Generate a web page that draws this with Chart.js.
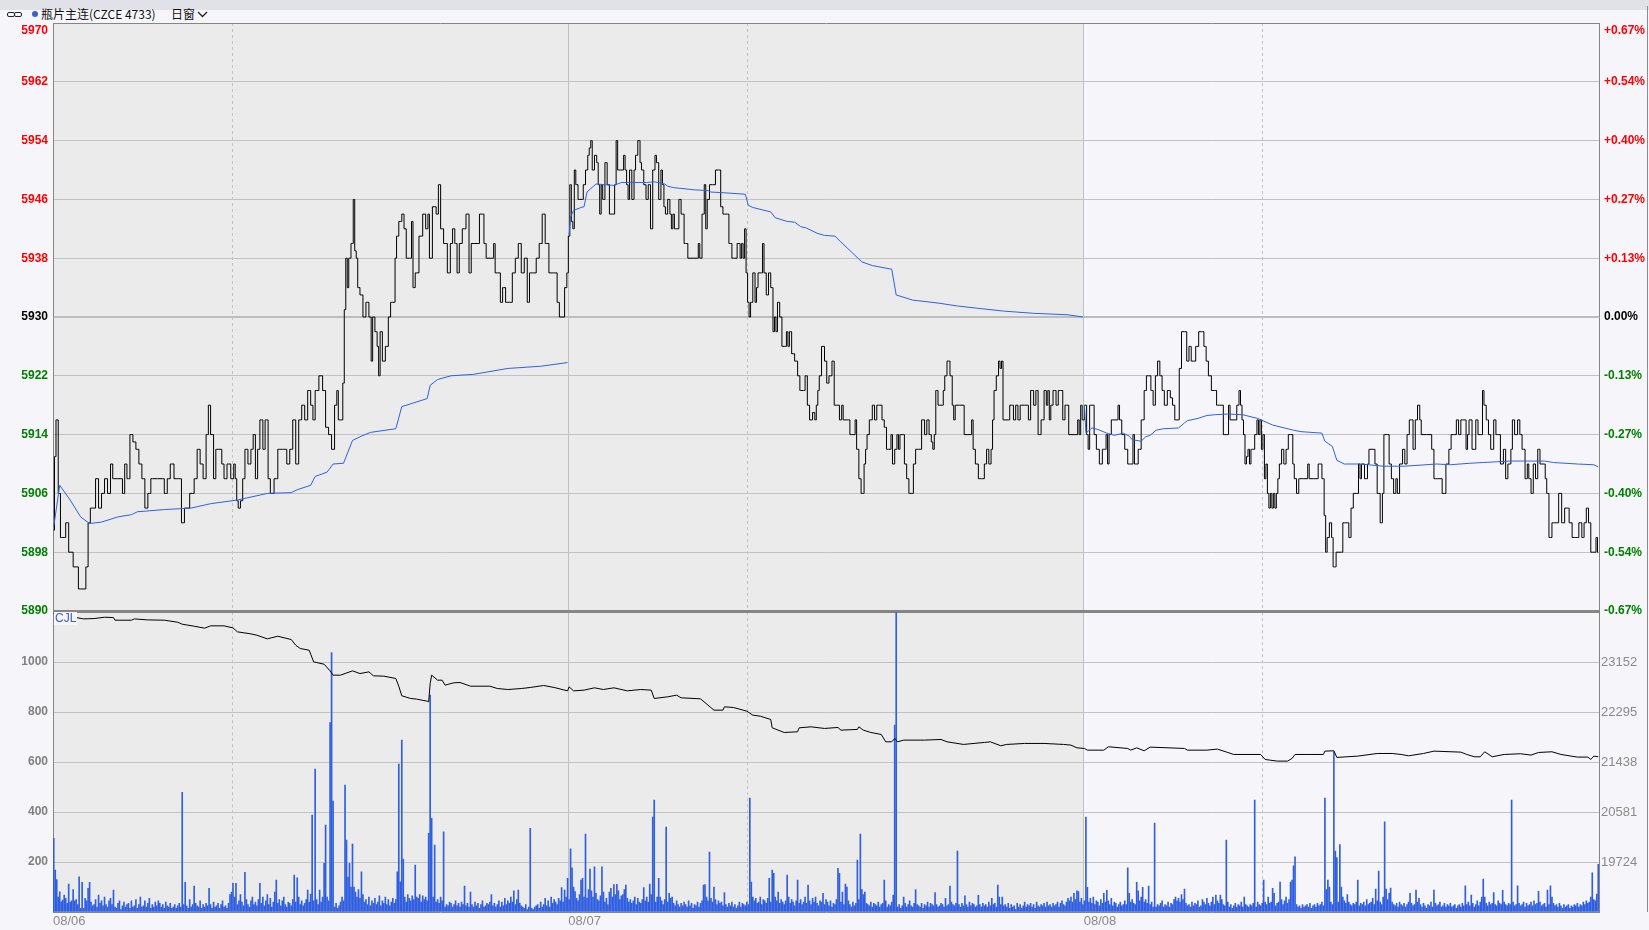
<!DOCTYPE html>
<html lang="zh-CN">
<head>
<meta charset="utf-8">
<title>瓶片主连(CZCE 4733) 日窗</title>
<script src="https://cdn.jsdelivr.net/npm/chart.js@4.4.1/dist/chart.umd.min.js"></script>
<style>
  html, body { margin: 0; padding: 0; }
  body { width: 1649px; height: 930px; overflow: hidden; background: #f6f6fa; position: relative;
         font-family: 'Liberation Sans', Arial, sans-serif; }
  #strip { position: absolute; left: 0; top: 0; width: 1649px; height: 10px; background: #e1e2e7; }
  .link { position: absolute; top: 12px; width: 6px; height: 3px; border: 1.5px solid #222; border-radius: 2px; }
  .dot { position: absolute; left: 32px; top: 11px; width: 6px; height: 6px; border-radius: 50%; background: #3b64c4; }
  .htxt { position: absolute; top: 6px; line-height: 16px; font-size: 12px; color: #111;
          font-family: 'Noto Sans CJK SC', 'Liberation Sans', sans-serif; white-space: nowrap; }
  .chev { position: absolute; left: 197px; top: 11px; }
  canvas { position: absolute; left: 0; }
  #priceCanvas { top: 0; z-index: 2; }
  #volCanvas { top: 600px; z-index: 1; }
  #cjl { position: absolute; left: 54px; top: 612px; z-index: 3; font-size: 12px; line-height: 13px;
         color: #3a5bd9; background: #f7f7fb; padding: 0 1px; }
  #edge { position: absolute; left: 1647px; top: 6px; width: 1px; height: 906px; background: #8c8c8c; }
</style>
</head>
<body>
<div id="strip"></div>
<span class="link" style="left:7px"></span>
<span class="link" style="left:14px"></span>
<span class="dot"></span>
<span class="htxt" style="left:41px">瓶片主连(CZCE 4733)</span>
<span class="htxt" style="left:171px">日窗</span>
<svg class="chev" width="11" height="7"><polyline points="1,1 5.5,5.5 10,1" fill="none" stroke="#222" stroke-width="1.3"/></svg>
<canvas id="priceCanvas" width="1649" height="630"></canvas>
<canvas id="volCanvas" width="1649" height="330"></canvas>
<span id="cjl">CJL</span>
<div id="edge"></div>
<script>
// sessions: 345 one-minute bars per trading day, night session = first 120
const barCount = 1035;
const dayStarts = [0, 345, 690];
const dayNames = ['08/06', '08/07', '08/08'];
const sessionBreaks = [120, 465, 810];
const prevSettle = 5930;

const priceTicks = [5890, 5898, 5906, 5914, 5922, 5930, 5938, 5946, 5954, 5962, 5970];
const volTicks = [0, 200, 400, 600, 800, 1000, 1200];
const oiTicks = [19724, 20581, 21438, 22295, 23152];

// volume per minute bar
const volumes = [
  295,168,130,60,81,41,48,68,55,35,112,40,45,90,45,50,30,141,15,119,
  15,55,45,95,119,40,25,30,50,20,68,35,45,25,60,30,20,45,55,30,
  88,20,15,35,45,10,25,40,20,30,35,15,45,20,25,50,15,30,60,20,
  25,45,20,35,55,15,30,20,40,25,45,35,20,30,15,40,25,20,35,15,
  20,30,15,25,35,20,479,30,119,25,15,50,20,30,104,35,25,20,45,15,
  30,20,35,25,95,30,15,40,20,25,35,15,30,45,20,25,15,35,70,80,
  115,60,115,30,45,70,40,25,159,50,30,20,45,60,30,40,25,50,115,35,
  60,25,45,70,30,55,20,40,80,128,35,50,25,45,60,30,20,40,35,25,
  50,148,40,137,60,30,45,25,35,50,88,40,72,388,45,572,50,30,88,40,
  60,195,348,60,45,758,1038,444,20,35,15,25,40,60,45,508,288,140,195,100,
  272,100,80,60,90,55,161,70,40,50,30,60,25,45,35,55,30,40,65,25,
  45,35,60,30,50,25,40,55,35,50,161,592,121,688,212,60,40,70,55,45,
  65,50,188,60,55,70,40,65,50,60,45,315,868,375,60,268,40,50,35,60,
  45,321,20,30,25,40,35,20,30,45,25,35,20,40,30,104,25,35,20,80,
  30,20,40,25,35,15,30,45,20,25,35,30,40,70,25,35,20,30,45,20,
  40,25,55,30,45,35,60,40,85,30,50,88,35,25,20,15,30,10,20,335,
  15,10,20,25,30,15,40,20,30,55,25,45,20,60,35,50,40,30,55,45,
  98,40,88,60,135,50,253,177,100,82,55,45,70,128,135,60,312,56,90,172,
  85,60,181,75,50,45,65,181,80,40,55,30,80,95,60,110,70,111,85,50,
  65,70,90,108,55,40,50,35,45,60,30,55,40,35,50,98,45,60,40,112,
  70,380,448,40,60,135,60,45,30,50,340,40,75,55,60,35,25,45,30,20,
  35,25,40,30,20,45,25,35,15,30,25,40,20,35,45,108,110,60,45,240,
  55,40,100,50,30,45,35,40,25,78,30,20,35,25,40,20,30,15,25,40,
  20,35,30,25,40,30,456,120,60,45,55,35,40,60,30,50,45,35,55,135,
  40,168,155,60,45,80,35,50,40,30,45,148,60,35,50,40,25,45,128,35,
  50,30,40,60,35,108,45,30,55,40,60,35,25,45,40,75,30,50,40,25,
  45,20,35,30,50,175,155,40,80,30,112,100,45,30,20,40,25,35,208,50,
  312,90,70,80,35,30,25,40,20,35,30,25,40,20,30,35,128,45,20,30,
  25,40,68,748,1200,20,30,15,25,60,35,20,30,45,25,20,35,90,30,25,
  20,35,15,30,25,40,20,35,30,25,78,30,20,25,35,30,20,55,25,30,
  104,40,30,25,35,244,30,20,35,25,65,30,20,40,25,35,30,20,25,67,
  30,20,35,25,30,20,40,25,55,30,35,20,108,60,30,60,25,30,20,35,
  15,30,20,25,10,35,20,30,15,25,40,20,30,25,35,20,30,15,40,25,
  20,30,25,35,20,40,25,30,20,35,25,30,40,20,35,45,30,25,40,55,
  45,60,40,75,50,85,82,40,55,30,45,380,99,40,55,35,60,30,45,40,
  25,50,35,75,40,87,45,30,55,25,40,35,20,30,40,25,30,45,30,177,
  75,40,50,35,30,119,85,45,60,99,40,50,35,104,30,40,20,356,20,30,
  25,35,45,20,30,25,40,20,35,30,50,60,45,55,40,70,50,92,35,25,
  30,20,40,25,35,30,45,20,25,50,40,30,55,35,25,40,60,30,68,45,
  35,68,50,30,25,288,40,20,30,15,25,35,20,30,25,40,20,60,30,25,
  20,30,25,35,448,20,40,30,25,35,128,40,30,60,35,40,95,75,25,35,
  40,120,50,30,45,60,35,50,120,128,185,221,30,20,25,15,30,20,25,30,
  20,35,15,25,30,20,35,25,30,40,25,456,90,128,100,40,30,641,244,218,
  40,270,100,60,45,35,70,40,30,25,35,30,40,128,25,35,30,40,25,50,
  30,35,40,55,30,92,45,164,40,30,60,361,92,50,75,96,40,30,25,35,
  20,40,30,25,35,20,30,40,75,35,25,30,88,40,55,30,20,35,25,15,
  30,25,40,20,88,35,25,30,40,20,25,35,20,30,25,35,20,25,30,15,
  25,30,20,35,25,105,30,40,25,68,35,20,30,45,25,40,60,132,60,35,
  25,40,30,35,78,30,25,45,35,30,87,40,30,25,35,30,448,40,25,30,
  105,35,25,30,40,20,35,25,30,40,25,45,30,35,83,40,25,30,35,20,
  88,30,105,60,35,25,30,20,35,25,15,30,20,25,30,15,25,20,30,25,
  35,20,30,25,40,30,45,35,40,60,157,50,45,72,191
];

// last price, [bar index, price]
const pricePts = [
  [0,5901],[1,5911],[2,5916],[4,5906],[5,5900],[7,5900],[9,5902],[11,5898],[15,5896],[18,5893],
  [21,5893],[22,5896],[24,5902],[25,5904],[27,5904],[29,5908],[31,5904],[33,5906],[35,5908],[37,5906],
  [39,5910],[40,5908],[45,5908],[47,5906],[48,5910],[50,5908],[52,5914],[54,5913],[56,5912],[58,5910],
  [60,5908],[62,5904],[64,5906],[66,5908],[73,5908],[75,5906],[77,5908],[79,5910],[82,5908],[85,5908],
  [86,5902],[89,5904],[93,5906],[95,5908],[97,5912],[99,5910],[101,5908],[103,5914],[104,5918],[106,5914],
  [108,5908],[109,5912],[112,5912],[113,5910],[115,5908],[117,5910],[120,5908],[121,5910],[122,5908],[123,5905],
  [124,5904],[126,5905],[127,5908],[129,5912],[131,5910],[133,5912],[134,5914],[136,5908],[137,5912],[139,5916],
  [141,5912],[142,5916],[143,5916],[144,5908],[146,5906],[149,5908],[151,5912],[153,5912],[155,5912],[157,5910],
  [159,5912],[161,5916],[163,5910],[165,5916],[167,5918],[169,5916],[171,5920],[173,5918],[174,5916],[176,5920],
  [179,5922],[181,5920],[183,5915],[185,5914],[187,5912],[189,5918],[190,5920],[191,5916],[193,5916],[194,5921],
  [195,5931],[196,5938],[197,5934],[198,5938],[200,5940],[201,5946],[202,5939],[203,5938],[204,5934],[206,5933],
  [208,5930],[210,5932],[212,5930],[213,5924],[214,5930],[216,5928],[217,5926],[218,5922],[219,5928],[221,5924],
  [223,5926],[225,5930],[226,5932],[228,5932],[229,5938],[230,5941],[232,5943],[234,5944],[235,5942],[237,5938],
  [239,5938],[240,5943],[241,5934],[243,5936],[246,5941],[248,5944],[250,5942],[251,5944],[252,5938],[255,5945],
  [257,5944],[258,5948],[260,5942],[262,5940],[265,5936],[266,5940],[268,5942],[269,5940],[271,5936],[272,5940],
  [275,5942],[277,5944],[279,5936],[280,5940],[284,5940],[286,5944],[287,5944],[289,5940],[290,5938],[294,5938],
  [295,5940],[296,5936],[298,5936],[300,5932],[301,5934],[304,5932],[306,5932],[308,5936],[310,5938],[312,5940],
  [314,5936],[316,5938],[318,5932],[319,5936],[322,5936],[324,5938],[326,5940],[328,5944],[330,5940],[333,5936],
  [336,5936],[338,5932],[339,5930],[341,5930],[343,5934],[344,5936],
  [345,5941],[346,5948],[347,5943],[348,5942],[349,5950],[350,5948],[352,5946],[354,5946],[355,5948],[357,5950],
  [358,5952],[359,5953],[360,5954],[361,5950],[363,5952],[364,5951],[365,5948],[366,5944],[367,5948],[368,5946],
  [370,5951],[371,5948],[373,5944],[375,5944],[376,5948],[377,5954],[378,5950],[381,5950],[382,5952],[383,5950],
  [384,5948],[385,5946],[386,5950],[388,5946],[389,5950],[390,5952],[392,5954],[393,5951],[394,5950],[396,5948],
  [397,5946],[399,5948],[400,5942],[402,5950],[403,5952],[404,5951],[406,5946],[407,5950],[408,5948],[409,5945],
  [410,5944],[412,5946],[413,5944],[414,5942],[415,5944],[416,5942],[418,5942],[419,5946],[421,5944],[423,5940],
  [426,5938],[431,5938],[432,5940],[433,5938],[435,5944],[436,5948],[437,5942],[438,5946],[440,5948],[442,5948],
  [444,5950],[446,5950],[447,5945],[449,5944],[451,5944],[453,5940],[455,5938],[456,5938],[459,5940],[460,5938],
  [461,5940],[462,5938],[463,5942],[464,5936],[465,5932],[466,5930],[467,5932],[469,5936],[470,5932],[471,5934],
  [472,5936],[474,5936],[475,5940],[476,5936],[478,5933],[479,5936],[481,5934],[482,5928],[483,5930],[484,5928],
  [485,5932],[487,5930],[488,5926],[490,5926],[491,5928],[492,5926],[493,5928],[495,5925],[497,5924],[499,5922],
  [500,5920],[502,5920],[504,5922],[505,5918],[507,5916],[509,5917],[510,5916],[511,5918],[512,5920],[513,5922],
  [515,5926],[517,5924],[518,5921],[520,5922],[522,5924],[523,5918],[525,5918],[527,5916],[528,5918],[529,5916],
  [532,5916],[534,5914],[536,5914],[537,5916],[538,5912],[540,5908],[541,5906],[542,5906],[543,5910],[544,5912],
  [545,5914],[547,5916],[549,5918],[550,5916],[552,5918],[554,5918],[555,5916],[557,5915],[558,5912],[560,5912],
  [561,5914],[562,5910],[564,5912],[565,5914],[566,5912],[567,5914],[569,5914],[570,5910],[572,5908],[573,5906],
  [575,5906],[576,5910],[578,5912],[580,5912],[582,5916],[584,5914],[585,5916],[587,5914],[588,5913],[589,5912],
  [590,5914],[591,5920],[593,5918],[595,5918],[596,5920],[597,5922],[599,5924],[601,5922],[602,5918],[603,5916],
  [604,5918],[609,5918],[610,5914],[614,5914],[615,5916],[616,5912],[618,5910],[620,5908],[622,5908],[624,5910],
  [625,5912],[627,5910],[628,5912],[629,5916],[630,5920],[632,5922],[633,5924],[634,5923],[635,5924],[636,5916],
  [639,5916],[641,5918],[642,5918],[643,5916],[645,5918],[646,5916],[648,5918],[652,5918],[653,5916],[655,5920],
  [657,5918],[658,5920],[660,5914],[662,5916],[664,5920],[665,5918],[666,5920],[667,5916],[668,5918],[670,5920],
  [672,5918],[673,5920],[675,5920],[676,5916],[678,5918],[681,5914],[685,5914],[686,5916],[687,5914],[688,5918],
  [689,5916],
  [691,5918],[692,5914],[693,5912],[694,5918],[696,5918],[697,5914],[699,5912],[701,5910],[703,5912],[704,5912],
  [705,5914],[706,5910],[707,5914],[709,5916],[712,5916],[713,5918],[714,5916],[716,5914],[718,5912],[720,5910],
  [722,5910],[723,5914],[724,5910],[725,5910],[727,5912],[729,5916],[731,5920],[732,5922],[734,5922],[735,5920],
  [737,5918],[738,5922],[740,5924],[741,5922],[743,5920],[744,5918],[747,5920],[748,5919],[750,5918],[751,5916],
  [753,5916],[754,5923],[756,5928],[758,5928],[759,5924],[761,5926],[762,5924],[764,5924],[765,5926],[768,5928],
  [769,5928],[771,5926],[772,5924],[774,5922],[776,5920],[778,5920],[779,5918],[782,5918],[784,5914],[786,5914],
  [787,5918],[788,5916],[791,5916],[793,5918],[794,5920],[795,5918],[796,5916],[797,5914],[798,5910],[799,5911],
  [800,5912],[801,5910],[802,5912],[803,5912],[805,5914],[806,5916],[807,5914],[808,5916],[809,5912],[810,5914],
  [811,5908],[812,5910],[813,5906],[814,5904],[815,5906],[816,5904],[817,5906],[818,5904],[819,5906],[820,5908],
  [821,5910],[823,5912],[824,5910],[826,5912],[827,5914],[829,5914],[830,5910],[831,5908],[833,5906],[834,5908],
  [839,5908],[840,5910],[841,5908],[846,5908],[847,5910],[848,5910],[850,5908],[851,5903],[852,5898],[853,5900],
  [855,5902],[856,5900],[857,5896],[858,5896],[859,5898],[862,5898],[864,5902],[866,5902],[868,5900],[869,5904],
  [871,5906],[873,5906],[874,5910],[875,5908],[876,5910],[879,5908],[880,5910],[881,5912],[884,5912],[885,5910],
  [887,5906],[889,5902],[890,5906],[891,5914],[893,5914],[895,5910],[896,5908],[898,5906],[899,5908],[900,5906],
  [902,5910],[904,5912],[905,5910],[907,5914],[908,5916],[909,5916],[911,5912],[912,5916],[914,5918],[915,5916],
  [916,5914],[922,5914],[923,5912],[925,5908],[928,5908],[931,5906],[933,5910],[935,5912],[936,5914],[938,5914],
  [940,5916],[941,5914],[943,5916],[945,5916],[946,5912],[947,5914],[948,5916],[951,5912],[953,5916],[954,5914],
  [956,5914],[957,5920],[958,5918],[960,5916],[961,5914],[963,5912],[965,5916],[966,5914],[967,5914],[970,5910],
  [971,5912],[973,5908],[974,5910],[975,5910],[976,5912],[977,5916],[979,5914],[981,5916],[982,5914],[984,5912],
  [986,5908],[987,5910],[988,5908],[990,5906],[991,5910],[993,5908],[994,5912],[996,5910],[998,5910],[999,5908],
  [1000,5906],[1002,5900],[1004,5902],[1006,5902],[1009,5906],[1010,5902],[1013,5904],[1014,5904],[1015,5902],[1018,5900],
  [1020,5900],[1022,5902],[1024,5900],[1025,5902],[1027,5904],[1028,5902],[1030,5898],[1032,5898],[1033,5900],[1034,5898]
];

// average price line, one run per trading day
const avgDay1 = [
  [0,5901.5],[4,5907.1],[11,5905.1],[18,5902.8],[24,5901.9],[32,5902.1],[43,5902.8],[52,5903.1],[56,5903.5],[74,5903.8],
  [92,5904],[105,5904.6],[123,5905.1],[143,5906],[159,5906.1],[163,5906.5],[172,5907.1],[175,5908.3],[183,5908.9],[187,5910],
  [194,5910.1],[200,5913.2],[206,5913.8],[212,5914.3],[229,5914.8],[233,5917.8],[250,5918.9],[252,5920.7],[257,5921.5],[266,5922],
  [281,5922.2],[304,5923],[326,5923.3],[344,5923.8]
];
const avgDay2 = [
  [345,5941.1],[346,5943.6],[348,5944.5],[353,5944.9],[355,5945],[357,5947],[363,5948.1],[375,5947.9],[380,5948.3],[397,5948.3],
  [402,5948.4],[409,5948.1],[411,5947.8],[415,5947.6],[429,5947.3],[438,5947.2],[440,5947],[449,5946.9],[463,5946.7],[465,5945.2],
  [468,5944.9],[480,5944.3],[483,5943.5],[491,5943],[496,5942.9],[500,5942.3],[504,5942.1],[511,5941.4],[516,5941.1],[523,5941],
  [527,5940.2],[541,5937.5],[548,5937],[561,5936.5],[564,5933],[575,5932.3],[592,5931.9],[605,5931.5],[618,5931.2],[636,5930.8],
  [656,5930.5],[679,5930.3],[689,5930]
];
const avgDay3 = [
  [690,5918],[691,5914.2],[695,5914.9],[699,5914.7],[705,5914.2],[710,5913.9],[716,5914.2],[720,5913.8],[722,5913.3],[728,5913.1],
  [731,5913.7],[734,5913.9],[738,5914.6],[743,5914.8],[753,5914.9],[757,5915.6],[759,5915.9],[766,5916.2],[772,5916.6],[777,5916.7],
  [786,5916.8],[796,5916.7],[806,5916.2],[816,5915.3],[830,5914.6],[835,5914.4],[849,5914.2],[851,5913.1],[856,5912.4],[859,5910.5],
  [864,5910],[875,5910],[890,5909.7],[904,5909.7],[926,5910],[935,5909.9],[948,5910.1],[957,5910.2],[966,5910.3],[975,5910.4],
  [998,5910.4],[1004,5910.2],[1020,5910],[1031,5909.9],[1034,5909.6]
];

// open interest, [bar index, contracts]
const oiPts = [
  [0,23986],[1,23957],[15,23917],[20,23894],[27,23900],[34,23923],[40,23917],[41,23872],[52,23872],[54,23894],
  [63,23877],[74,23872],[83,23837],[86,23803],[94,23769],[101,23735],[105,23775],[114,23775],[120,23740],[123,23672],
  [132,23637],[136,23614],[143,23552],[150,23597],[159,23540],[162,23443],[165,23386],[171,23357],[174,23157],[181,23117],
  [185,23003],[187,22929],[192,22929],[200,23003],[205,22957],[211,22986],[214,22918],[221,22912],[229,22872],[231,22740],
  [233,22575],[239,22529],[243,22518],[250,22483],[251,22472],[252,22786],[253,22929],[257,22843],[260,22843],[262,22758],
  [266,22786],[268,22798],[272,22803],[279,22740],[292,22740],[297,22700],[304,22683],[313,22700],[319,22718],[328,22752],
  [335,22718],[344,22660],[345,22729],[348,22660],[355,22672],[362,22712],[368,22683],[375,22712],[384,22660],[393,22683],
  [400,22672],[402,22529],[411,22558],[417,22586],[420,22541],[433,22523],[438,22415],[442,22329],[448,22329],[449,22386],
  [455,22375],[464,22312],[468,22243],[473,22226],[480,22169],[481,22026],[489,21946],[498,21958],[499,22026],[507,22043],
  [516,22015],[525,22032],[527,21986],[538,21998],[539,22043],[542,21986],[547,21946],[554,21912],[557,21786],[561,21786],
  [563,21843],[565,21786],[569,21815],[583,21815],[594,21826],[598,21786],[609,21741],[623,21775],[627,21786],[634,21718],
  [638,21741],[650,21758],[663,21758],[676,21741],[681,21729],[685,21683],[690,21672],[692,21643],[703,21643],[706,21701],
  [719,21672],[721,21643],[725,21683],[730,21632],[734,21695],[757,21672],[759,21643],[772,21643],[779,21661],[786,21603],
  [790,21569],[808,21569],[811,21483],[819,21455],[826,21455],[829,21501],[831,21569],[841,21569],[850,21569],[851,21626],
  [857,21632],[859,21518],[873,21541],[886,21586],[896,21586],[902,21569],[907,21546],[917,21586],[924,21626],[942,21609],
  [946,21569],[951,21529],[955,21529],[958,21615],[963,21529],[971,21569],[982,21581],[989,21558],[994,21603],[1003,21615],
  [1009,21569],[1020,21524],[1027,21524],[1029,21483],[1031,21541],[1034,21529]
];

Chart.defaults.font.family = "'Liberation Sans', Arial, sans-serif";

const xTicks = [0, barCount].concat(sessionBreaks, dayStarts.slice(1)).sort((a, b) => a - b);
const toXY = pts => pts.map(p => ({ x: p[0] + 0.5, y: p[1] }));

function signColor(v) {
  if (v > prevSettle) return '#ff0000';
  if (v < prevSettle) return '#008000';
  return '#000000';
}

function pctLabel(v) {
  const p = (v - prevSettle) / prevSettle * 100;
  if (v === prevSettle) return '0.00%';
  return (p > 0 ? '+' : '') + p.toFixed(2) + '%';
}

// shade the first two days darker than the last one
const dayShade = {
  id: 'dayShade',
  beforeDraw(chart) {
    const { ctx, chartArea: a, scales } = chart;
    const split = scales.x.getPixelForValue(dayStarts[2]);
    ctx.save();
    ctx.fillStyle = '#ebebeb';
    ctx.fillRect(a.left, a.top, split - a.left, a.bottom - a.top);
    ctx.fillStyle = '#f6f6fa';
    ctx.fillRect(split, a.top, a.right - split, a.bottom - a.top);
    ctx.restore();
  }
};

function xAxis(showLabels) {
  return {
    type: 'linear',
    min: 0,
    max: barCount,
    offset: false,
    afterBuildTicks: s => { s.ticks = xTicks.map(v => ({ value: v })); },
    afterFit: s => { s.height = showLabels ? 18 : 0; },
    grid: {
      offset: false,
      drawTicks: false,
      color: c => (!c.tick || c.tick.value === 0 || c.tick.value === barCount) ? 'rgba(0,0,0,0)' : '#c2c2c2'
    },
    border: {
      display: false,
      dash: c => (c.tick && sessionBreaks.includes(c.tick.value)) ? [3, 3] : []
    },
    ticks: {
      display: showLabels,
      autoSkip: false,
      maxRotation: 0,
      align: 'start',
      padding: 2,
      color: '#8a8a8a',
      font: { size: 13 },
      callback: v => {
        const k = dayStarts.indexOf(v);
        return k >= 0 ? dayNames[k] : '';
      }
    }
  };
}

const lastPrice = priceTicks[priceTicks.length - 1];

new Chart(document.getElementById('priceCanvas'), {
  type: 'line',
  data: {
    datasets: [
      { data: toXY(avgDay1), borderColor: '#2c62e4', borderWidth: 1, pointRadius: 0, tension: 0 },
      { data: toXY(avgDay2), borderColor: '#2c62e4', borderWidth: 1, pointRadius: 0, tension: 0 },
      { data: toXY(avgDay3), borderColor: '#2c62e4', borderWidth: 1, pointRadius: 0, tension: 0 },
      { data: toXY(pricePts), borderColor: '#000000', borderWidth: 1, pointRadius: 0, stepped: 'middle' }
    ]
  },
  options: {
    responsive: false,
    animation: false,
    events: [],
    layout: { padding: { top: 23, bottom: 19, left: 0, right: 0 } },
    plugins: { legend: { display: false }, tooltip: { enabled: false } },
    scales: {
      x: xAxis(false),
      y: {
        position: 'left',
        min: priceTicks[0],
        max: lastPrice,
        afterBuildTicks: s => { s.ticks = priceTicks.map(v => ({ value: v })); },
        afterFit: s => { s.width = 53; },
        grid: {
          drawTicks: false,
          color: c => {
            if (!c.tick) return '#c2c2c2';
            if (c.tick.value === priceTicks[0] || c.tick.value === lastPrice) return '#858585';
            if (c.tick.value === prevSettle) return '#bdbdbd';
            return '#c2c2c2';
          },
          lineWidth: c => (c.tick && (c.tick.value === prevSettle || c.tick.value === priceTicks[0])) ? 2 : 1
        },
        border: { display: true, color: '#858585' },
        ticks: {
          autoSkip: false,
          padding: 5,
          color: c => signColor(c.tick.value),
          font: { size: 12, weight: 'bold' },
          callback: v => v === lastPrice ? ['', String(v)] : String(v)
        }
      },
      yPct: {
        position: 'right',
        min: priceTicks[0],
        max: lastPrice,
        afterBuildTicks: s => { s.ticks = priceTicks.map(v => ({ value: v })); },
        afterFit: s => { s.width = 50; },
        grid: { drawOnChartArea: false, drawTicks: false },
        border: { display: true, color: '#858585' },
        ticks: {
          autoSkip: false,
          padding: 5,
          color: c => signColor(c.tick.value),
          font: { size: 12, weight: 'bold' },
          callback: v => v === lastPrice ? ['', pctLabel(v)] : pctLabel(v)
        }
      }
    }
  },
  plugins: [dayShade]
});

const oiStep = oiTicks[1] - oiTicks[0];
const volTop = volTicks[volTicks.length - 1];

new Chart(document.getElementById('volCanvas'), {
  type: 'bar',
  data: {
    datasets: [
      {
        type: 'line',
        data: toXY(oiPts),
        yAxisID: 'yOI',
        borderColor: '#000000',
        borderWidth: 1,
        pointRadius: 0,
        tension: 0
      },
      {
        data: volumes.map((v, i) => ({ x: i + 0.5, y: v })),
        yAxisID: 'yV',
        backgroundColor: '#2f5fe0',
        barThickness: 1,
        grouped: false
      }
    ]
  },
  options: {
    responsive: false,
    animation: false,
    events: [],
    layout: { padding: { top: 11, bottom: 0, left: 0, right: 0 } },
    plugins: { legend: { display: false }, tooltip: { enabled: false } },
    scales: {
      x: xAxis(true),
      yV: {
        position: 'left',
        min: 0,
        max: volTop,
        afterBuildTicks: s => { s.ticks = volTicks.map(v => ({ value: v })); },
        afterFit: s => { s.width = 53; },
        grid: {
          drawTicks: false,
          color: c => (c.tick && (c.tick.value === 0 || c.tick.value === volTop)) ? '#858585' : '#c2c2c2',
          lineWidth: c => (c.tick && c.tick.value === volTop) ? 2 : 1
        },
        border: { display: true, color: '#858585' },
        ticks: {
          autoSkip: false,
          padding: 5,
          color: '#808080',
          font: { size: 12, weight: 'bold' },
          callback: v => (v === 0 || v === volTop) ? '' : String(v)
        }
      },
      yOI: {
        position: 'right',
        min: oiTicks[0] - oiStep,
        max: oiTicks[oiTicks.length - 1] + oiStep,
        afterBuildTicks: s => { s.ticks = oiTicks.map(v => ({ value: v })); },
        afterFit: s => { s.width = 50; },
        grid: { drawOnChartArea: false, drawTicks: false },
        border: { display: true, color: '#858585' },
        ticks: {
          autoSkip: false,
          padding: 2,
          color: '#8a8a8a',
          font: { size: 13 },
          callback: v => String(v)
        }
      }
    }
  },
  plugins: [dayShade]
});
</script>
</body>
</html>
